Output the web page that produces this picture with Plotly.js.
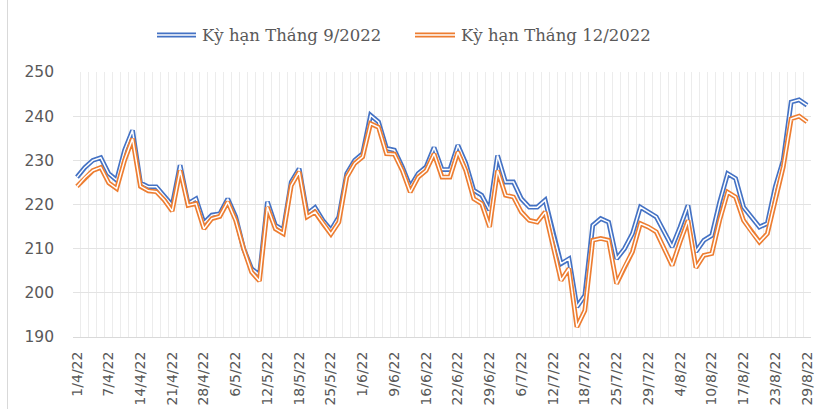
<!DOCTYPE html>
<html>
<head>
<meta charset="utf-8">
<script src="https://cdn.plot.ly/plotly-3.0.1.min.js"></script>
<style>
  html, body { margin: 0; padding: 0; background: #ffffff; }
  #wrap { position: relative; width: 824px; height: 409px; overflow: hidden; }
  #chart { width: 824px; height: 409px; }
  #edge { position: absolute; left: 7px; top: 0; width: 1px; height: 409px; background: #d9d9d9; }
</style>
</head>
<body>
<div id="wrap"><div id="chart"></div><div id="edge"></div></div>
<script>
// Tick labels shown on the category axis (every 4th trading session)
const tickLabels = ["1/4/22","7/4/22","14/4/22","21/4/22","28/4/22","6/5/22","12/5/22","18/5/22",
  "25/5/22","1/6/22","9/6/22","16/6/22","22/6/22","29/6/22","6/7/22","12/7/22","18/7/22",
  "25/7/22","29/7/22","4/8/22","10/8/22","17/8/22","23/8/22","29/8/22"];
const labelStep = 4;

const seriesNames = ["Kỳ hạn Tháng 9/2022", "Kỳ hạn Tháng 12/2022"];

// Kỳ hạn Tháng 9/2022
const sep2022 = [226.2,228.4,230.0,230.6,227.0,225.5,232.3,236.8,224.9,224.0,
  224.0,221.9,219.8,228.9,220.2,221.3,215.8,217.6,217.9,221.3,
  217.2,210.0,205.5,204.0,220.6,215.3,214.2,225.1,228.1,217.9,
  219.3,216.4,214.2,217.2,227.0,230.0,231.5,240.2,238.7,232.7,
  232.3,228.5,224.0,227.0,228.5,232.9,227.9,227.9,233.4,229.3,
  223.2,222.1,218.7,231.1,225.1,225.1,221.3,219.4,219.4,221.0,
  213.4,206.6,207.7,196.8,199.4,215.3,216.8,216.0,207.7,210.0,
  213.4,219.4,218.3,217.2,213.8,210.4,214.9,219.8,209.3,211.9,
  213.0,220.6,227.0,225.9,219.4,217.2,214.9,215.7,224.0,230.0,
  243.2,243.7,242.5];

// Kỳ hạn Tháng 12/2022
const dec2022 = [224.1,226.1,227.7,228.4,224.9,223.6,230.0,234.9,224.1,223.1,
  222.9,221.0,218.5,227.7,219.8,220.2,214.5,216.8,217.3,220.6,
  216.4,210.0,204.7,202.7,219.4,214.5,213.4,224.3,227.4,217.2,
  218.3,215.7,213.3,216.0,226.2,229.3,230.8,238.3,237.5,231.5,
  231.4,227.7,222.8,226.2,227.7,231.5,226.2,226.2,231.9,227.7,
  221.3,220.2,214.9,227.7,222.1,221.7,218.3,216.4,216.0,218.3,
  210.4,202.8,205.5,192.3,196.0,211.9,212.3,211.9,202.1,205.9,
  209.3,215.7,214.9,213.8,210.0,206.2,211.5,216.4,205.7,208.5,
  208.9,216.5,222.8,221.7,216.4,213.8,211.5,213.4,221.0,228.5,
  239.4,240.0,238.7];

const colors = ["#4472C4", "#ED7D31"];

const idx = sep2022.map((_, i) => i);
const tickvals = tickLabels.map((_, k) => k * labelStep);

// geometry of plot area in pixels
const W = 824, H = 409;
const M = { l: 73, r: 13, t: 72, b: 72 };
const pw = W - M.l - M.r, ph = H - M.t - M.b;
const px = X => (X - M.l) / pw;
const py = Y => (H - M.b - Y) / ph;

const traces = [];
[sep2022, dec2022].forEach((s, k) => {
  traces.push({ x: idx, y: s, type: "scatter", mode: "lines", name: seriesNames[k],
    line: { color: colors[k], width: 4.8 }, showlegend: false, hoverinfo: "skip" });
  traces.push({ x: idx, y: s, type: "scatter", mode: "lines", name: seriesNames[k],
    line: { color: "#ffffff", width: 1.5 }, showlegend: false, hoverinfo: "skip" });
});

// manual legend with double-line symbols
const shapes = [];
const annotations = [];
const legendItems = [{ x0: 157, x1: 196, tx: 200 }, { x0: 415, x1: 455, tx: 459 }];
legendItems.forEach((it, k) => {
  const yc = 35;
  shapes.push({ type: "line", xref: "paper", yref: "paper",
    x0: px(it.x0), x1: px(it.x1), y0: py(yc), y1: py(yc),
    line: { color: colors[k], width: 4.8 } });
  shapes.push({ type: "line", xref: "paper", yref: "paper",
    x0: px(it.x0), x1: px(it.x1), y0: py(yc), y1: py(yc),
    line: { color: "#ffffff", width: 1.5 } });
  annotations.push({ xref: "paper", yref: "paper", x: px(it.tx), y: py(yc),
    xanchor: "left", yanchor: "middle", showarrow: false, text: seriesNames[k],
    font: { family: "DejaVu Serif, Liberation Serif, serif", size: 16.5, color: "#595959" } });
});

const layout = {
  width: W, height: H,
  margin: M,
  paper_bgcolor: "#ffffff", plot_bgcolor: "#ffffff",
  showlegend: false,
  xaxis: {
    range: [-0.5, sep2022.length - 0.5],
    tickmode: "array", tickvals: tickvals, ticktext: tickLabels,
    tickangle: -90,
    tickfont: { family: "DejaVu Sans, sans-serif", size: 14, color: "#595959" },
    showgrid: false, zeroline: false,
    showline: true, linecolor: "#d9d9d9", linewidth: 1,
    ticks: "", ticklabelstandoff: 8,
    minor: { tickmode: "linear", tick0: 0.5, dtick: 1, showgrid: true, gridcolor: "#ececec", gridwidth: 1, ticks: "" }
  },
  yaxis: {
    range: [190, 250], dtick: 10, tick0: 190,
    tickfont: { family: "DejaVu Sans, sans-serif", size: 15.5, color: "#595959" },
    showgrid: true, gridcolor: "#e3e3e3", gridwidth: 1,
    zeroline: false, showline: false, ticks: "", ticklabelstandoff: 18
  },
  shapes: shapes,
  annotations: annotations
};

Plotly.newPlot("chart", traces, layout, { staticPlot: true, displayModeBar: false });
</script>
</body>
</html>
